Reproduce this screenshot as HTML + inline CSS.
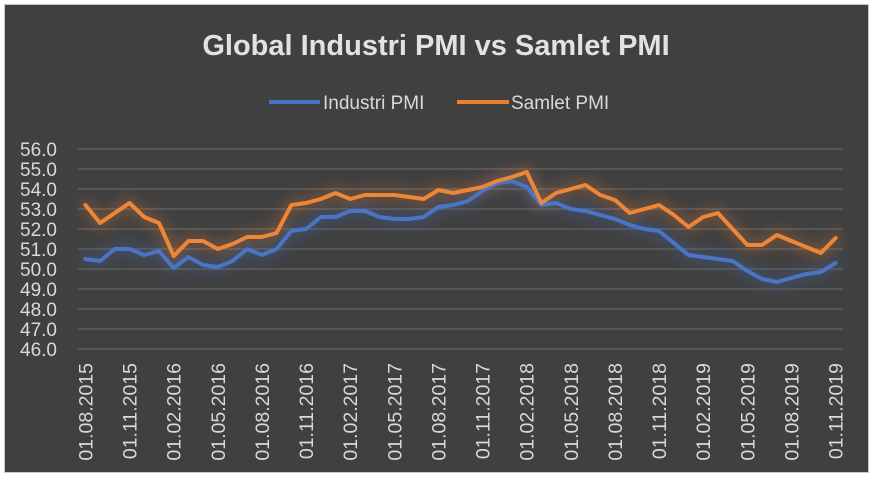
<!DOCTYPE html>
<html><head><meta charset="utf-8"><style>
html,body{margin:0;padding:0;background:#fff;}
svg{display:block;}
text{font-family:"Liberation Sans",sans-serif;}
</style></head><body>
<svg width="874" height="483" viewBox="0 0 874 483" xmlns="http://www.w3.org/2000/svg">
<defs>
<filter id="glow" x="-10%" y="-50%" width="120%" height="200%"><feGaussianBlur stdDeviation="7"/></filter>
</defs>
<rect x="0" y="0" width="874" height="483" fill="#ffffff"/>
<rect x="4.5" y="4.5" width="864" height="468" fill="#404040" stroke="#c8c8c8" stroke-width="1"/>
<text x="436" y="55" text-anchor="middle" font-size="29" font-weight="bold" fill="#e2e2e2">Global Industri PMI vs Samlet PMI</text>
<line x1="269" y1="102" x2="320" y2="102" stroke="#4472c4" stroke-width="4"/>
<text x="323" y="109" font-size="19" fill="#d9d9d9">Industri PMI</text>
<line x1="457" y1="102" x2="509" y2="102" stroke="#ed7d31" stroke-width="4"/>
<text x="511" y="109" font-size="19" fill="#d9d9d9">Samlet PMI</text>
<g stroke="#5e5e5e" stroke-width="1.5">
<line x1="78" y1="149" x2="843" y2="149"/><line x1="78" y1="169" x2="843" y2="169"/>
<line x1="78" y1="189" x2="843" y2="189"/><line x1="78" y1="209" x2="843" y2="209"/>
<line x1="78" y1="229" x2="843" y2="229"/><line x1="78" y1="249" x2="843" y2="249"/>
<line x1="78" y1="269" x2="843" y2="269"/><line x1="78" y1="289" x2="843" y2="289"/>
<line x1="78" y1="309" x2="843" y2="309"/><line x1="78" y1="329" x2="843" y2="329"/>
<line x1="78" y1="349" x2="843" y2="349"/>
</g>
<g font-size="19" fill="#d9d9d9" text-anchor="end">
<text x="57" y="156">56.0</text><text x="57" y="176">55.0</text><text x="57" y="196">54.0</text>
<text x="57" y="216">53.0</text><text x="57" y="236">52.0</text><text x="57" y="256">51.0</text>
<text x="57" y="276">50.0</text><text x="57" y="296">49.0</text><text x="57" y="316">48.0</text>
<text x="57" y="336">47.0</text><text x="57" y="356">46.0</text>
</g>
<g id="series"></g>
<script>
(function(){
var o=[53.2,52.3,52.8,53.3,52.6,52.3,50.65,51.4,51.4,51.0,51.25,51.6,51.6,51.8,53.2,53.3,53.5,53.8,53.5,53.7,53.7,53.7,53.6,53.5,53.95,53.8,53.95,54.1,54.4,54.6,54.85,53.3,53.8,54.0,54.2,53.7,53.45,52.8,53.0,53.2,52.7,52.1,52.6,52.8,52.0,51.2,51.2,51.7,51.4,51.1,50.8,51.55];
var b=[50.5,50.4,51.0,51.0,50.7,50.9,50.05,50.6,50.2,50.1,50.4,51.0,50.7,51.0,51.9,52.0,52.6,52.6,52.9,52.9,52.6,52.5,52.5,52.6,53.1,53.2,53.4,53.9,54.3,54.4,54.1,53.2,53.3,53.0,52.9,52.7,52.5,52.2,52.0,51.9,51.3,50.7,50.6,50.5,50.4,49.9,49.5,49.35,49.55,49.75,49.85,50.3];
function pts(a){return a.map(function(v,i){return (85.4+14.71*i).toFixed(1)+","+(149+(56-v)*20).toFixed(1);}).join(" ");}
var ns="http://www.w3.org/2000/svg",g=document.getElementById("series");
function pl(a,c,w,f,op){var p=document.createElementNS(ns,"polyline");p.setAttribute("points",pts(a));p.setAttribute("fill","none");p.setAttribute("stroke",c);p.setAttribute("stroke-width",w);p.setAttribute("stroke-linejoin","round");p.setAttribute("stroke-linecap","round");if(f)p.setAttribute("filter","url(#glow)");if(op)p.setAttribute("opacity",op);g.appendChild(p);}
pl(b,"#4472c4",10,true,"0.35");pl(o,"#ed7d31",10,true,"0.35");
pl(b,"#4a74c6",4);pl(o,"#ee8638",4);
})();
</script>
<g font-size="19.5" fill="#d9d9d9" text-anchor="end">
<text transform="translate(92.4,363) rotate(-90)">01.08.2015</text>
<text transform="translate(136.5,363) rotate(-90)">01.11.2015</text>
<text transform="translate(180.7,363) rotate(-90)">01.02.2016</text>
<text transform="translate(224.8,363) rotate(-90)">01.05.2016</text>
<text transform="translate(268.9,363) rotate(-90)">01.08.2016</text>
<text transform="translate(313.0,363) rotate(-90)">01.11.2016</text>
<text transform="translate(357.2,363) rotate(-90)">01.02.2017</text>
<text transform="translate(401.3,363) rotate(-90)">01.05.2017</text>
<text transform="translate(445.4,363) rotate(-90)">01.08.2017</text>
<text transform="translate(489.6,363) rotate(-90)">01.11.2017</text>
<text transform="translate(533.7,363) rotate(-90)">01.02.2018</text>
<text transform="translate(577.8,363) rotate(-90)">01.05.2018</text>
<text transform="translate(622.0,363) rotate(-90)">01.08.2018</text>
<text transform="translate(666.1,363) rotate(-90)">01.11.2018</text>
<text transform="translate(710.2,363) rotate(-90)">01.02.2019</text>
<text transform="translate(754.4,363) rotate(-90)">01.05.2019</text>
<text transform="translate(798.5,363) rotate(-90)">01.08.2019</text>
<text transform="translate(842.6,363) rotate(-90)">01.11.2019</text>
</g>
</svg>
</body></html>
